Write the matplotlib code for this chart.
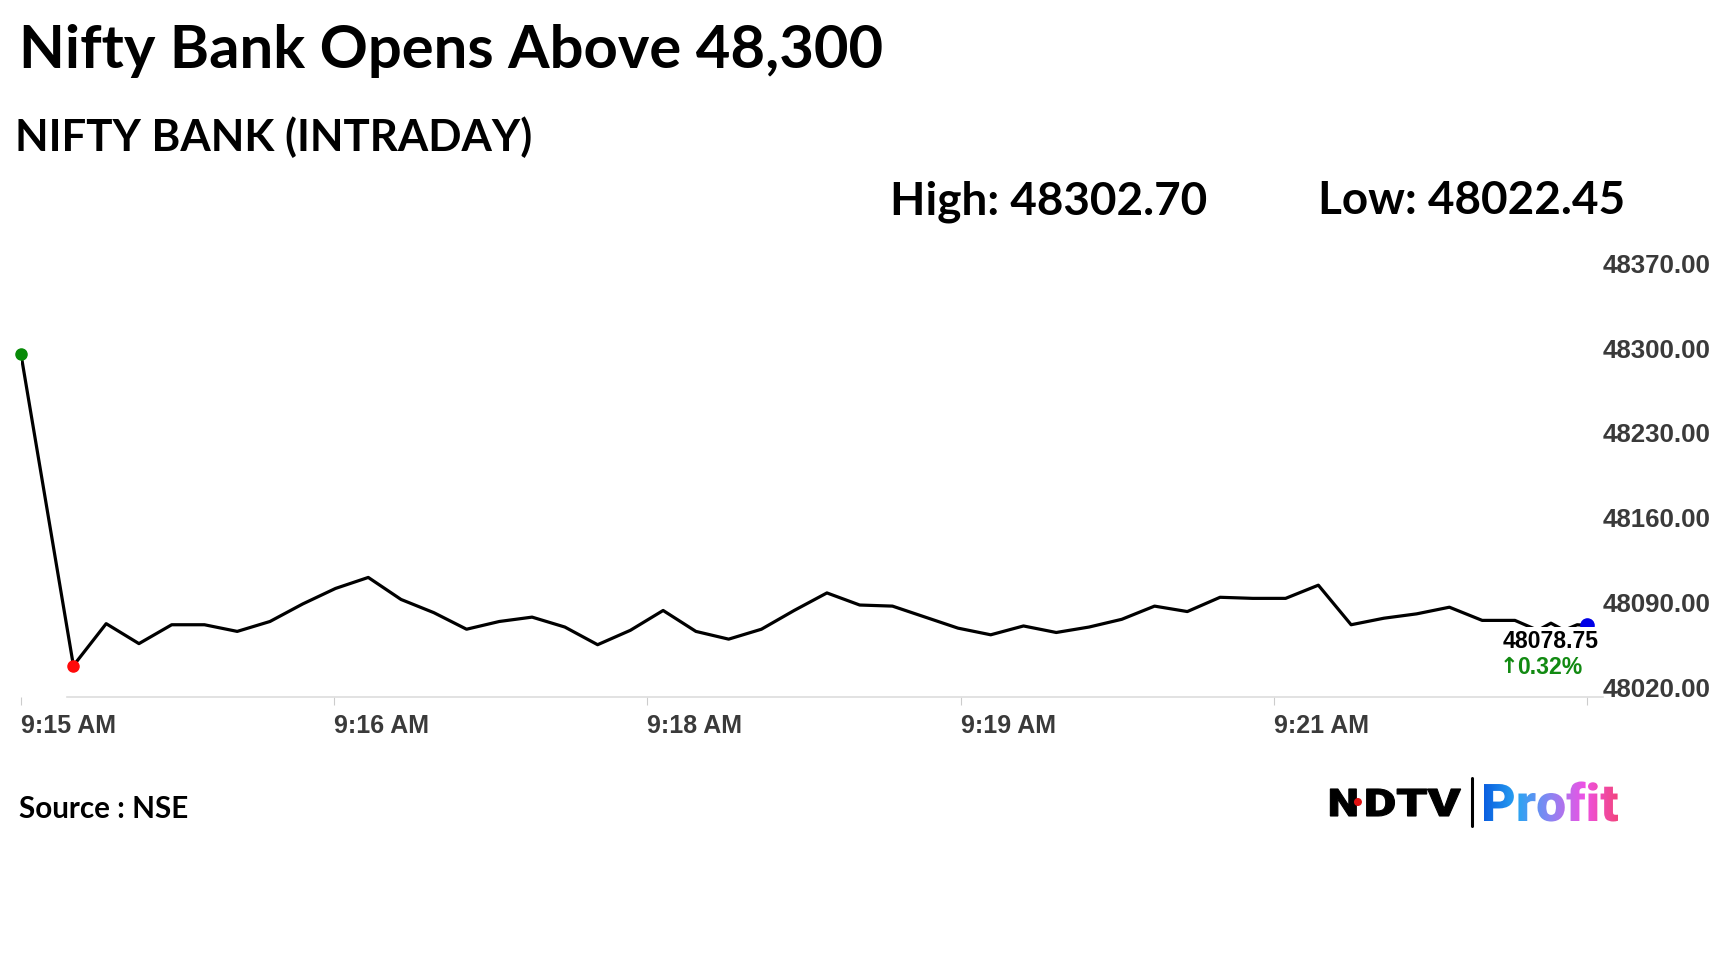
import numpy as np
import matplotlib.pyplot as plt
from matplotlib.textpath import TextPath
from matplotlib.patches import PathPatch, Circle
from matplotlib.font_manager import FontProperties
from matplotlib.transforms import Affine2D
from matplotlib.colors import LinearSegmentedColormap

# seconds after 9:15:00 for each sample on the intraday line
secs = [0, 16, 26, 36, 46, 56, 66, 76, 86, 96, 106, 116, 126, 136, 146,
        156, 166, 176, 186, 196, 206, 216, 226, 236, 246, 256, 266, 276,
        286, 296, 306, 316, 326, 336, 346, 356, 366, 376, 386, 396, 406,
        416, 426, 436, 446, 456, 463, 467, 471, 475, 478]
prices = [48302.70, 48045.5, 48080.2, 48063.7, 48079.3, 48079.3, 48073.8,
          48082.0, 48096.5, 48109.3, 48118.4, 48100.2, 48089.3, 48075.6,
          48082.0, 48085.6, 48077.4, 48062.8, 48074.7, 48091.1, 48073.8,
          48067.4, 48075.6, 48091.1, 48105.6, 48095.6, 48094.7, 48085.6,
          48076.5, 48071.0, 48078.3, 48072.9, 48077.4, 48083.8, 48094.7,
          48090.2, 48102.0, 48101.1, 48101.1, 48112.0, 48079.3, 48084.7,
          48088.3, 48093.8, 48082.9, 48082.9, 48074.7, 48080.6, 48074.7,
          48079.3, 48078.75]
y_ticks = [48020, 48090, 48160, 48230, 48300, 48370]
day_high = "48302.70"
day_low = "48022.45"
last_price = "48078.75"
pct_change = "0.32%"

W, H = 1728, 972
plt.rcParams['font.family'] = ['Liberation Sans', 'DejaVu Sans']
fig = plt.figure(figsize=(W / 100, H / 100), dpi=100)

# main line chart, positioned in pixel terms
ax = fig.add_axes([21 / W, 1 - 696.5 / H, 1566 / W, 435.6 / H])
ax.plot(secs, prices, color='black', lw=2.3, zorder=2)
hi = int(np.argmax(prices))
lo = int(np.argmin(prices))
ax.plot(secs[hi], prices[hi], 'o', color='#078a07', ms=8, zorder=3, clip_on=False)
ax.plot(secs[lo], prices[lo], 'o', color='#ff0a0a', ms=8, zorder=3, clip_on=False)
ax.plot(secs[-1], prices[-1], 'o', color='#0000e6', ms=9.5, zorder=3, clip_on=False)
ax.set_xlim(secs[0], secs[-1])
ax.set_ylim(48020, 48380)

# y axis on the right
ax.yaxis.tick_right()
ax.set_yticks(y_ticks, [f"{v:.2f}" for v in y_ticks])
ax.tick_params(axis='y', length=0, pad=11.5, labelsize=18.6, labelcolor='#3a3a3a')
for lab in ax.get_yticklabels():
    lab.set_fontweight('bold')
    lab.set_verticalalignment('baseline')

# time axis: 5 equal steps, labels left aligned on the tick
ticks = np.linspace(secs[0], secs[-1], 6)
labels = [f"9:{15 + int(t // 60):02d} AM" for t in ticks[:-1]] + ['']
ax.set_xticks(ticks, labels)
ax.tick_params(axis='x', length=5.8, width=0.8, color='#cccccc', pad=7,
               labelsize=18, labelcolor='#3a3a3a')
for lab in ax.get_xticklabels():
    lab.set_fontweight('bold')
    lab.set_horizontalalignment('left')

for s in ['top', 'left', 'right']:
    ax.spines[s].set_visible(False)
ax.spines['bottom'].set_color('#dddddd')
ax.spines['bottom'].set_linewidth(1.2)
ax.spines['bottom'].set_bounds(secs[1] - 2, secs[-1] + 5)

# last price callout
ax.annotate(last_price, xy=(secs[-1], prices[-1]), xytext=(-84, -16),
            textcoords='offset pixels', ha='left', va='center', fontsize=16.6,
            fontweight='bold', color='black', zorder=5,
            bbox=dict(fc='white', ec='none', pad=2), annotation_clip=False)
ax.annotate("\u2191", xy=(secs[-1], prices[-1]), xytext=(-87, -42),
            textcoords='offset pixels', ha='left', va='center', fontsize=16,
            fontweight='bold', family='DejaVu Sans', color='#128a12', zorder=5,
            annotation_clip=False)
ax.annotate(pct_change, xy=(secs[-1], prices[-1]), xytext=(-70, -42),
            textcoords='offset pixels', ha='left', va='center', fontsize=16.6,
            fontweight='bold', color='#128a12', zorder=5, annotation_clip=False)

# overlay in pixel coordinates for the header, footer and logo
ov = fig.add_axes([0, 0, 1, 1])
ov.set_xlim(0, W)
ov.set_ylim(H, 0)
ov.axis('off')
ov.patch.set_alpha(0)

head = dict(family='Lato', weight='bold', color='black', va='baseline')
ov.text(19, 68, "Nifty Bank Opens Above 48,300", fontsize=43, **head)
ov.text(15, 151, "NIFTY BANK (INTRADAY)", fontsize=31.5, **head)
ov.text(890, 214, "High: " + day_high, fontsize=33, **head)
ov.text(1318, 214, "Low: " + day_low, fontsize=33, **head)
ov.text(19, 818, "Source : NSE", fontsize=21.3, **head)

# NDTV | Profit logo
fp_black = FontProperties(family='Roboto', weight='black')
tp_n = TextPath((0, 0), 'N', size=38, prop=fp_black)
tp_dtv = TextPath((0, 0), 'DTV', size=38, prop=fp_black)
wn = tp_n.get_extents().width * 1.15
ov.add_patch(PathPatch(tp_n, transform=Affine2D().scale(1.15, -1).translate(1328, 816) + ov.transData,
                       fc='black', ec='black', lw=0.8))
dot_x = 1328 + wn + 4
ov.add_patch(Circle((dot_x, 802), 4, fc='#e01010', ec='none', zorder=3))
dtv_x = dot_x + 6
sx = (1458 - dtv_x) / tp_dtv.get_extents().width
ov.add_patch(PathPatch(tp_dtv, transform=Affine2D().scale(sx, -1).translate(dtv_x, 816) + ov.transData,
                       fc='black', ec='black', lw=0.8))
ov.plot([1472, 1472], [778, 826], color='black', lw=2.2, solid_capstyle='round')

fp_bold = FontProperties(family='Roboto', weight='black')
tp_p = TextPath((0, 0), 'Profit', size=52, prop=fp_bold)
bb = tp_p.get_extents()
psx = 134 / bb.width
p_patch = PathPatch(tp_p, transform=Affine2D().translate(-bb.x0, 0).scale(psx, -1).translate(1484, 821) + ov.transData,
                    fc='none', ec='none')
ov.add_patch(p_patch)
cmap = LinearSegmentedColormap.from_list('profit', ['#0a5fe0', '#2aa4f2', '#8c84f2', '#ee52e4', '#f2457e'])
grad = np.linspace(0, 1, 256).reshape(1, -1)
im = ov.imshow(grad, cmap=cmap, extent=(1484, 1618, 835, 821 - bb.y1 - 5), aspect='auto')
im.set_clip_path(p_patch)
ov.set_xlim(0, W)
ov.set_ylim(H, 0)

fig.savefig("out.png", dpi=100, facecolor='white')
